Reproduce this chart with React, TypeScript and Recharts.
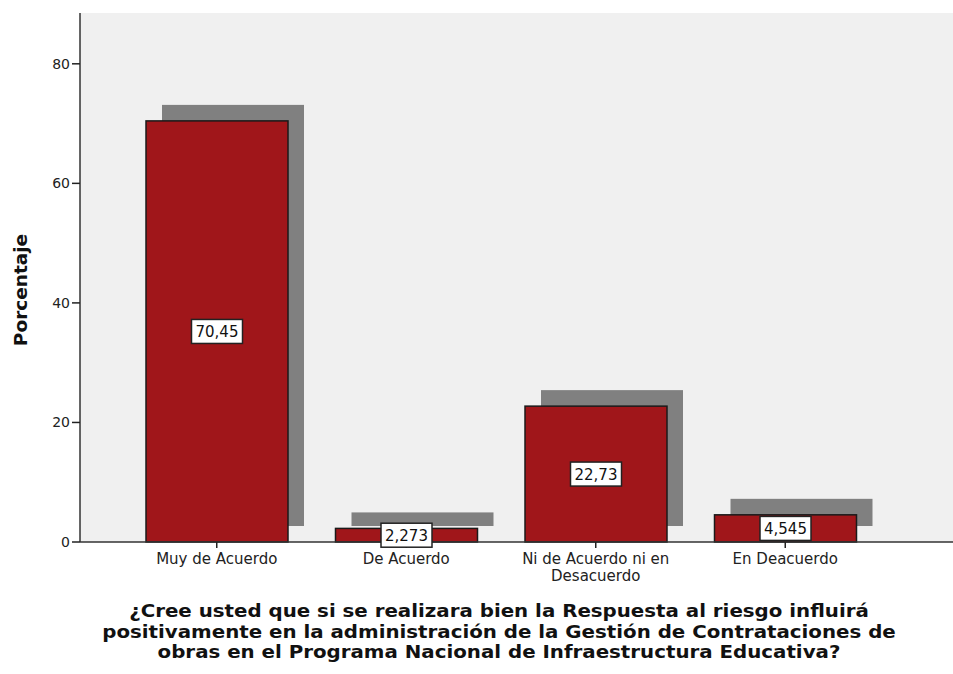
import React from 'react';
import { BarChart, Bar, XAxis, YAxis, CartesianGrid, LabelList } from 'recharts';

const categories = ['Muy de Acuerdo', 'De Acuerdo', 'Ni de Acuerdo ni en Desacuerdo', 'En Deacuerdo'];
const categoryLines = [['Muy de Acuerdo'], ['De Acuerdo'], ['Ni de Acuerdo ni en', 'Desacuerdo'], ['En Deacuerdo']];
const percentages = [70.45, 2.273, 22.73, 4.545];
const valueLabels = ['70,45', '2,273', '22,73', '4,545'];
const yTicks = [0, 20, 40, 60, 80];
const yLabel = 'Porcentaje';
const titleLines = [
  '¿Cree usted que si se realizara bien la Respuesta al riesgo influirá',
  'positivamente en la administración de la Gestión de Contrataciones de',
  'obras en el Programa Nacional de Infraestructura Educativa?',
];

const FONT = '"DejaVu Sans", Verdana, sans-serif';
const BAR_RED = '#A0161A';
const SHADOW = '#808080';
const SHADOW_OFFSET = 16;

const data = categories.map((c, i) => ({ name: c, value: percentages[i], label: valueLabels[i] }));

// bar with the SPSS style drop shadow behind it
const ShadowBar = (props: any) => {
  const { x, y, width, height } = props;
  return (
    <g>
      <rect x={x + SHADOW_OFFSET} y={y - SHADOW_OFFSET} width={width} height={height} fill={SHADOW} />
      <rect x={x} y={y} width={width} height={height} fill={BAR_RED} stroke="#1a1a1a" strokeWidth={1.5} />
    </g>
  );
};

const BoxLabel = (props: any) => {
  const { x, y, width, height, value } = props;
  const cx = x + width / 2;
  const cy = y + height / 2;
  const w = String(value).length * 9 + 6;
  return (
    <g>
      <rect x={cx - w / 2} y={cy - 12} width={w} height={24} fill="#fff" stroke="#222" strokeWidth={1.5} />
      <text x={cx} y={cy + 6} textAnchor="middle" fontSize={15} fontFamily={FONT} fill="#111">{value}</text>
    </g>
  );
};

const CategoryTick = (props: any) => {
  const { x, y, payload } = props;
  const lines = categoryLines[payload.index] ?? [payload.value];
  return (
    <g>
      {lines.map((l, i) => (
        <text key={i} x={x} y={y + 14 + i * 17} textAnchor="middle" fontSize={15} fontFamily={FONT} fill="#222">{l}</text>
      ))}
    </g>
  );
};

export default function App() {
  return (
    <div style={{ position: 'absolute', left: 0, top: 0, width: 953, height: 674, background: '#fff' }}>
      <BarChart width={953} height={674} data={data} margin={{ top: 13, right: 0, left: 0, bottom: 0 }} barCategoryGap={0}>
        <CartesianGrid horizontal={false} vertical={false} fill="#F0F0F0" />
        <XAxis
          dataKey="name"
          height={132}
          padding={{ left: 42, right: 73 }}
          tick={<CategoryTick />}
          tickSize={6}
          tickLine={{ stroke: '#222', strokeWidth: 1.5 }}
          axisLine={{ stroke: '#333', strokeWidth: 1.5 }}
          interval={0}
        />
        <XAxis xAxisId="top" orientation="top" dataKey="name" height={0} tick={false} tickLine={false} axisLine={{ stroke: '#333', strokeWidth: 1.5 }} />
        <YAxis
          type="number"
          domain={[0, 88.5]}
          ticks={yTicks}
          width={80}
          tickSize={8}
          tick={{ fontSize: 14, fontFamily: FONT, fill: '#222' }}
          tickLine={{ stroke: '#222', strokeWidth: 1.5 }}
          axisLine={{ stroke: '#333', strokeWidth: 1.5 }}
          label={{
            content: () => (
              <text x={27} y={290} transform="rotate(-90 27 290)" textAnchor="middle" fontSize={18.5} fontWeight="bold" fontFamily={FONT} fill="#111">{yLabel}</text>
            ),
          }}
        />
        <Bar dataKey="value" barSize={142} shape={<ShadowBar />} isAnimationActive={false}>
          <LabelList dataKey="label" content={<BoxLabel />} />
        </Bar>
      </BarChart>
      <div style={{ position: 'absolute', left: 0, width: 998, top: 601, textAlign: 'center', fontFamily: FONT, fontWeight: 'bold', fontSize: 18, lineHeight: '20.5px', color: '#111', transform: 'scaleX(1.1)', transformOrigin: '499px 0' }}>
        {titleLines.map((t, i) => (
          <div key={i}>{t}</div>
        ))}
      </div>
    </div>
  );
}
